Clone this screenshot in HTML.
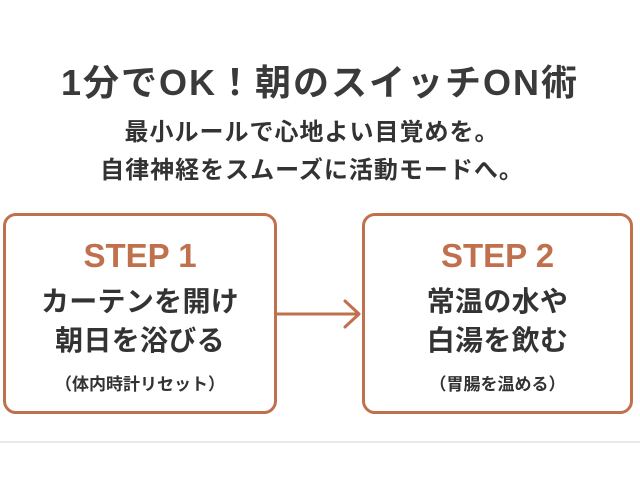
<!DOCTYPE html>
<html>
<head>
<meta charset="utf-8">
<style>
  html, body { margin:0; padding:0; }
  body { width:640px; height:480px; background:#ffffff; position:relative; overflow:hidden;
         font-family:"Liberation Sans","Noto Sans CJK JP",sans-serif; color:#363636; }
  .t { position:absolute; white-space:nowrap; text-align:center; }
  .box { position:absolute; box-sizing:border-box; border:3px solid #c0704c; border-radius:13px; background:#fff; }
  .step { color:#c0704c; font-weight:bold; font-size:33px; height:40px; line-height:40px; }
  .main { font-weight:bold; font-size:28px; height:38px; line-height:38px; color:#333; letter-spacing:0.3px; }
  .sub { font-weight:bold; font-size:17px; height:26px; line-height:26px; color:#333; }
</style>
</head>
<body>
  <div class="t" style="left:0;width:640px;top:58px;height:50px;line-height:50px;font-size:36px;font-weight:bold;letter-spacing:2px;color:#3a3a3a;">1分でOK！朝のスイッチON術</div>
  <div class="t" style="left:0;width:624px;top:114px;height:38px;line-height:38px;font-size:24px;font-weight:bold;letter-spacing:1px;color:#333;">最小ルールで心地よい目覚めを。</div>
  <div class="t" style="left:0;width:624px;top:152px;height:38px;line-height:38px;font-size:24px;font-weight:bold;letter-spacing:1px;color:#333;">自律神経をスムーズに活動モードへ。</div>

  <div class="box" style="left:3px;top:213px;width:274px;height:201px;"></div>
  <div class="box" style="left:362px;top:213px;width:271px;height:201px;"></div>

  <div class="t step" style="left:3px;width:274px;top:236px;">STEP 1</div>
  <div class="t main" style="left:3px;width:274px;top:283px;">カーテンを開け</div>
  <div class="t main" style="left:3px;width:274px;top:322px;">朝日を浴びる</div>
  <div class="t sub" style="left:3px;width:274px;top:372px;">（体内時計リセット）</div>

  <div class="t step" style="left:362px;width:271px;top:236px;">STEP 2</div>
  <div class="t main" style="left:362px;width:271px;top:283px;">常温の水や</div>
  <div class="t main" style="left:362px;width:271px;top:322px;">白湯を飲む</div>
  <div class="t sub" style="left:362px;width:271px;top:372px;">（胃腸を温める）</div>

  <svg style="position:absolute;left:0;top:0;" width="640" height="480" viewBox="0 0 640 480">
    <line x1="277" y1="314" x2="359" y2="314" stroke="#c0704c" stroke-width="3"/>
    <polyline points="345,301 359,314 345,327" fill="none" stroke="#c0704c" stroke-width="3" stroke-linecap="round" stroke-linejoin="round"/>
    <line x1="0" y1="442" x2="640" y2="442" stroke="#e2e2e2" stroke-width="1.5"/>
  </svg>
</body>
</html>
